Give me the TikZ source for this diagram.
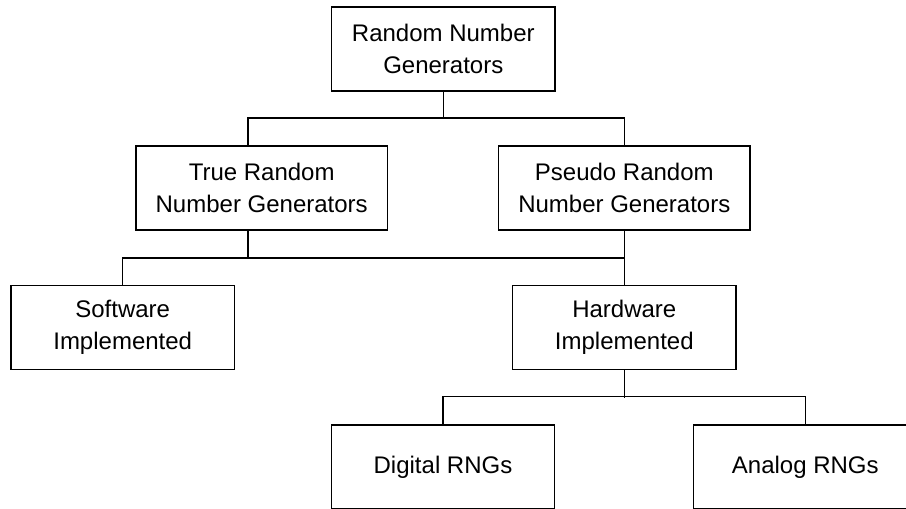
\documentclass[tikz,border=0pt]{standalone}
\usepackage{fontspec}
\setmainfont{Liberation Sans}
\usetikzlibrary{positioning}

\begin{document}
\begin{tikzpicture}[x=0.75pt,y=-0.75pt,
    box/.style={draw,rectangle,line width=0.9pt,inner sep=0pt,align=center,
                minimum width=167.5pt,minimum height=63pt,
                font=\fontsize{18}{23.8}\selectfont},
    widebox/.style={box,minimum width=188.5pt},
    link/.style={line width=0.9pt}]
    \useasboundingbox (0,0) rectangle (906,508);
    \clip (0,0) rectangle (906,508);

    \node[box] (rng) at (443.3,49) {Random Number\\Generators};
    \node[widebox] (trng) at (261.7,188) {True Random\\Number Generators};
    \node[widebox] (prng) at (624.3,188) {Pseudo Random\\Number Generators};
    \node[box] (sw) at (122.7,327.3) {Software\\Implemented};
    \node[box] (hw) at (624.3,327.3) {Hardware\\Implemented};
    \node[box] (dig) at (443,467) {Digital RNGs};
    \node[box] (ana) at (805.3,467) {Analog RNGs};

    \coordinate (trngin) at (248,146);
    \coordinate (trngout) at (248,230);

    \draw[link] (trngin) |- ++(0,-28) -| (prng.north);
    \draw[link] (rng.south) -- ++(0,27);
    \draw[link] (prng.south) -- ++(0,27.3) -| (sw.north);
    \draw[link] (trngout) -- ++(0,27.3);
    \draw[link] (prng.south) -- (hw.north);
    \draw[link] (dig.north) -- ++(0,-28) -| (ana.north);
    \draw[link] (hw.south) -- ++(0,28);
\end{tikzpicture}
\end{document}
